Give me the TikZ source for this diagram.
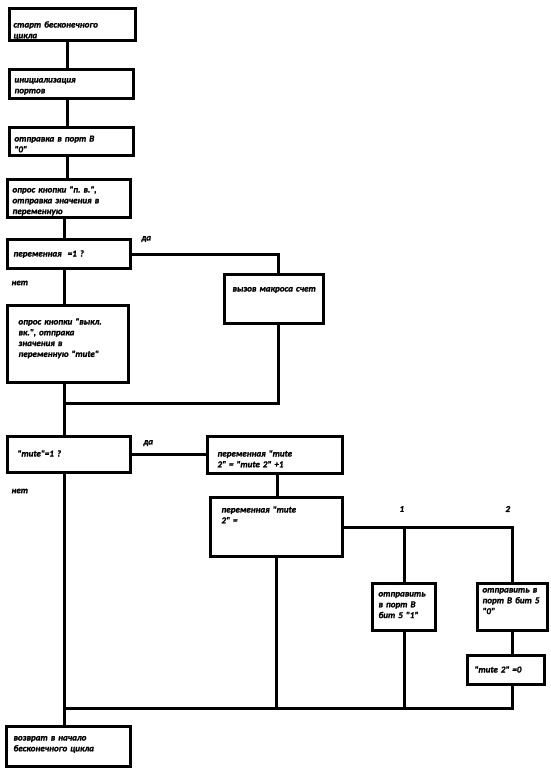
\documentclass[tikz,border=0pt]{standalone}
\usepackage{fontspec}
\newfontfamily\calib{Carlito}[BoldItalicFont=Carlito Bold Italic,BoldItalicFeatures={FakeBold=1.6}]
\usetikzlibrary{positioning}
\newcommand{\btxt}{\calib\bfseries\itshape\fontsize{9}{10.8}\selectfont\frenchspacing}

\begin{document}
\begin{tikzpicture}[x=1pt,y=-1pt,line width=3pt,
   blk/.style={draw,line width=3pt,anchor=north west,inner ysep=0pt,inner xsep=5pt,align=left,font=\btxt},
   sz/.style n args={3}{text width=#1pt,text height=#2pt,text depth=#3pt},
   lbl/.style={font=\btxt,inner sep=0pt,anchor=west}]
  \useasboundingbox (0,0) rectangle (550,774);
  % main column
  \node[blk,inner xsep=4pt,sz={118}{19}{13}] (start) at (8,7) {старт бесконечного\\цикла};
  \node[blk,sz={114}{13}{16}] (init) at (8,68) {инициализация\\портов};
  \node[blk,sz={114}{14}{14}] (send0) at (8,126) {отправка в порт B\\"0"};
  \node[blk,sz={113}{13}{25}] (poll1) at (6,178) {опрос кнопки "п. в.",\\отправка значения в\\переменную};
  \node[blk,inner xsep=6pt,sz={111}{17}{12}] (ifvar) at (6,238) {переменная~ =1 ?};
  \node[blk,inner xsep=8pt,sz={83}{17}{32}] (macro) at (223,273) {\mbox{вызов макроса счет}};
  \node[blk,inner xsep=11pt,sz={99}{19}{58}] (poll2) at (6,304) {опрос кнопки "выкл.\\вк.", отпрака\\значения в\\переменную "mute"};
  \node[blk,inner xsep=10pt,sz={103}{20}{16}] (ifmute) at (6,435) {"mute"=1 ?};
  \node[blk,inner xsep=10pt,sz={115}{20}{17}] (inc) at (206,435) {переменная "mute\\2" = "mute 2" +1};
  \node[blk,inner xsep=11pt,sz={110}{15}{44}] (sw) at (209,496) {переменная "mute\\2" =};
  \node[blk,inner xsep=6pt,sz={51}{13}{34}] (bit1) at (371,582) {отправить\\в порт B\\бит 5 "1"};
  \node[blk,sz={60}{9}{38}] (bit0) at (476,582) {\mbox{отправить в}\\\mbox{порт B бит 5}\\"0"};
  \node[blk,inner xsep=7pt,sz={63}{17}{12}] (reset) at (466,654) {"mute 2" =0};
  \node[blk,inner xsep=7pt,sz={110}{14}{26}] (back) at (5,725) {возврат в начало\\бесконечного цикла};
  % labels
  \node[lbl] (da1) at (140,239) {да};
  \node[lbl] (net1) at (10,283) {нет};
  \node[lbl] (da2) at (142,443) {да};
  \node[lbl] (net2) at (10,491) {нет};
  \node[lbl] (one) at (398,509) {1};
  \node[lbl] (two) at (504,509) {2};
  % junctions
  \coordinate (sp1) at (67,0);
  \coordinate (j1) at (64.5,403);
  \coordinate (j3) at (64.5,708);
  % connectors
  \draw (start.south -| sp1) -- (init.north -| sp1);
  \draw (init.south -| sp1) -- (send0.north -| sp1);
  \draw (send0.south -| sp1) -- (poll1.north -| sp1);
  \draw (poll1.south -| j1) -- (ifvar.north -| j1);
  \draw (ifvar.south -| j1) -- (poll2.north -| j1);
  \draw (ifvar.east) -| ([xshift=4pt]macro.north);
  \draw ([xshift=4pt]macro.south) |- (j1);
  \draw (poll2.south -| j1) -- (ifmute.north -| j1);
  \draw (ifmute.east) -- (ifmute.east -| inc.west);
  \draw ([xshift=2.5pt]inc.south) -- ([xshift=2.5pt]inc.south |- sw.north);
  \draw (sw.east) -| (bit0.north);
  \draw (bit1.north) -- (bit1.north |- sw.east);
  \draw (bit0.south) -- (bit0.south |- reset.north);
  \draw (ifmute.south -| j3) -- (back.north -| j3);
  \draw (reset.south -| bit0.south) |- (j3);
  \draw (bit1.south) -- (bit1.south |- j3);
  \draw (sw.south) -- (sw.south |- j3);
\end{tikzpicture}
\end{document}
